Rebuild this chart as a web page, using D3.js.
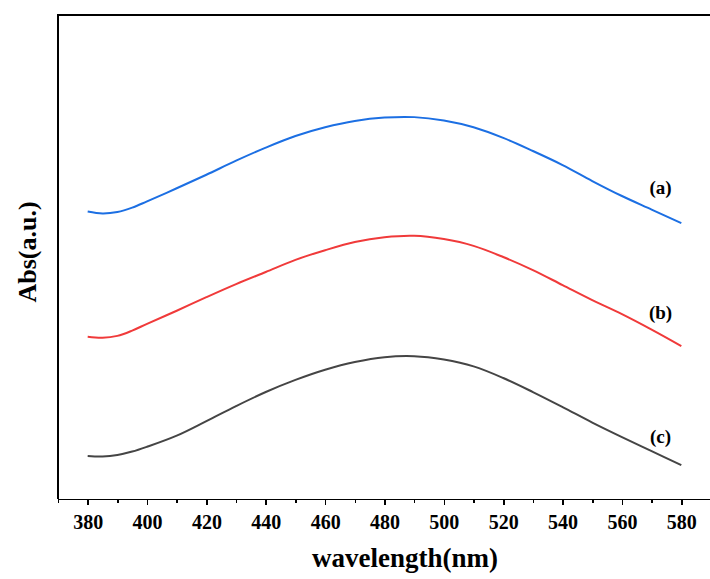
<!DOCTYPE html>
<meta charset="utf-8">
<style>
body {
  margin: 0;
  background: #fff;
}
.frame {
  fill: none;
  stroke: #000;
  stroke-width: 2px;
  shape-rendering: crispEdges;
}
.xAxis path,
.xAxis line {
  stroke: #000;
  stroke-width: 1.6px;
  shape-rendering: crispEdges;
}
.xAxis text {
  font-family: "Liberation Serif", serif;
  font-weight: bold;
  font-size: 20px;
  fill: #000;
}
.axislabel {
  font-family: "Liberation Serif", serif;
  font-weight: bold;
  fill: #000;
}
.curve {
  fill: none;
  stroke-width: 2px;
}
.tag {
  font-family: "Liberation Serif", serif;
  font-weight: bold;
  font-size: 19px;
}
</style>
<body>
<div id="chart"></div>
<script src="https://d3js.org/d3.v7.min.js"></script>
<script>
// wavelength grid (nm)
var wavelength = [380, 385, 390, 395, 400, 410, 420, 430, 440, 450, 460, 470, 480, 490,
                  500, 510, 520, 530, 540, 550, 560, 570, 580];
// absorbance, arbitrary units
var absA = [0.594, 0.590, 0.593, 0.602, 0.615, 0.642, 0.670, 0.699, 0.726, 0.750, 0.768, 0.781, 0.788, 0.789,
            0.782, 0.768, 0.746, 0.719, 0.690, 0.657, 0.626, 0.598, 0.570];
var absB = [0.335, 0.333, 0.337, 0.348, 0.362, 0.389, 0.417, 0.444, 0.469, 0.494, 0.514, 0.531, 0.541, 0.544,
            0.537, 0.523, 0.500, 0.473, 0.442, 0.411, 0.382, 0.350, 0.316];
var absC = [0.089, 0.088, 0.091, 0.098, 0.108, 0.131, 0.161, 0.192, 0.221, 0.246, 0.267, 0.283, 0.293, 0.295,
            0.288, 0.274, 0.250, 0.221, 0.190, 0.158, 0.128, 0.099, 0.070];
var seriesNames = ["(a)", "(b)", "(c)"];
var seriesColors = ["#1c6fe3", "#f03a3a", "#454545"];
var majorTicks = [380, 400, 420, 440, 460, 480, 500, 520, 540, 560, 580];
var minorTicks = d3.range(370, 591, 10);

var W = 710, H = 579;
// plot box (the right edge runs off the picture)
var box = {left: 58, top: 15, bottom: 499, right: 711};

var x = d3.scaleLinear().domain([370, 590]).range([box.left, box.right]);
var y = d3.scaleLinear().domain([0, 1]).range([box.bottom, box.top]);

var svg = d3.select("#chart").append("svg")
    .attr("width", W)
    .attr("height", H);

// frame: left and top lines
svg.append("path")
    .attr("class", "frame")
    .attr("d", "M" + box.left + "," + box.bottom + "V" + box.top + "H" + W);

// minor ticks
svg.append("g")
    .attr("class", "xAxis")
    .attr("transform", "translate(0," + box.bottom + ")")
    .call(d3.axisBottom(x).tickValues(minorTicks).tickSize(4).tickFormat(""))
    .select(".domain").remove();

// major ticks + labels
svg.append("g")
    .attr("class", "xAxis")
    .attr("transform", "translate(0," + box.bottom + ")")
    .call(d3.axisBottom(x).tickValues(majorTicks).tickSize(6).tickPadding(10).tickSizeOuter(0));

svg.append("text")
    .attr("class", "axislabel")
    .attr("x", 405)
    .attr("y", 567)
    .attr("text-anchor", "middle")
    .style("font-size", "27px")
    .text("wavelength(nm)");

svg.append("text")
    .attr("class", "axislabel")
    .attr("transform", "translate(36,252) rotate(-90)")
    .attr("text-anchor", "middle")
    .style("font-size", "26px")
    .text("Abs(a.u.)");

var line = d3.line()
    .x(function(d) { return x(d[0]); })
    .y(function(d) { return y(d[1]); })
    .curve(d3.curveCatmullRom.alpha(0.5));

var allSeries = [absA, absB, absC];
allSeries.forEach(function(vals, i) {
  var pts = wavelength.map(function(w, j) { return [w, vals[j]]; });
  svg.append("path")
      .datum(pts)
      .attr("class", "curve")
      .attr("stroke", seriesColors[i])
      .attr("d", line);
});

// series tags
var tagY = [0.630, 0.372, 0.116];
seriesNames.forEach(function(name, i) {
  svg.append("text")
      .attr("class", "tag")
      .attr("x", x(573))
      .attr("y", y(tagY[i]))
      .attr("text-anchor", "middle")
      .text(name);
});
</script>
</body>
